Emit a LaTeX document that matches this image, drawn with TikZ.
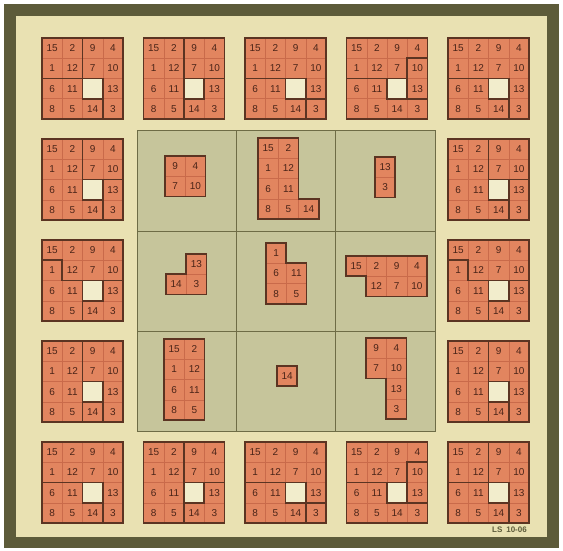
\documentclass[tikz,border=0pt]{standalone}
\usepackage{fontspec}
\setmainfont{Liberation Sans}
\definecolor{framec}{HTML}{5D5B3A}
\definecolor{bgc}{HTML}{E9E1B2}
\definecolor{panelf}{HTML}{C6C59B}
\definecolor{panell}{HTML}{6E6C46}
\definecolor{tilef}{HTML}{E2855F}
\definecolor{tgridc}{HTML}{C96A4A}
\definecolor{plinec}{HTML}{5B3422}
\definecolor{numc}{HTML}{4A2418}
\definecolor{holef}{HTML}{F2EDCC}
\tikzset{
  tilefill/.style={fill=tilef},
  tgrid/.style={draw=tgridc, line width=0.5pt},
  holefill/.style={fill=holef},
  pline/.style={draw=plinec, line width=1.8pt, line cap=rect, line join=miter},
  num/.style={font=\fontsize{10}{11}\selectfont, text=numc, inner sep=0pt},
  lab/.style={font=\fontsize{8}{9}\selectfont\bfseries, text=framec, inner sep=0pt}
}
\newcommand\bsq[3]{%
\begin{scope}[shift={(#1,#2)},x=20.25pt,y=-20.25pt]
\fill[tilefill] (0,0) rectangle (4,4);
\draw[tgrid] (1,0)--(1,4) (2,0)--(2,4) (3,0)--(3,4) (0,1)--(4,1) (0,2)--(4,2) (0,3)--(4,3);
\fill[holefill] (2,2) rectangle (3,3);
\foreach \n [count=\c] in {15,2,9,4} \node[num] at (\c-0.5,0.5) {\n};
\foreach \n [count=\c] in {1,12,7,10} \node[num] at (\c-0.5,1.5) {\n};
\foreach \n [count=\c] in {6,11} \node[num] at (\c-0.5,2.5) {\n};
\node[num] at (3.5,2.5) {13};
\foreach \n [count=\c] in {8,5,14,3} \node[num] at (\c-0.5,3.5) {\n};
\draw[pline] (0,0) rectangle (4,4) (2,2) rectangle (3,3) #3;
\end{scope}}
\newcommand\cpiece[4]{%
\begin{scope}[shift={(#1,#2)},x=20.25pt,y=-20.25pt]
\foreach \cx/\cy/\n in {#3} {
  \fill[tilefill] (\cx,\cy) rectangle ++(1,1);
  \draw[tgrid] (\cx,\cy) rectangle ++(1,1);
  \node[num] at (\cx+0.5,\cy+0.5) {\n};
}
\draw[pline] #4;
\end{scope}}
\begin{document}
\begin{tikzpicture}[x=1pt,y=-1pt]
\useasboundingbox (0,0) rectangle (563,551);
\fill[white] (0,0) rectangle (563,551);
\fill[framec] (4,4) rectangle (559,548);
\fill[bgc] (16,16) rectangle (547,537);
% central panel
\fill[panelf] (137,131) rectangle (435,431);
\draw[panell, line width=0.5pt] (236.3,131) -- (236.3,431) (335.7,131) -- (335.7,431)
  (137,231) -- (435,231) (137,331) -- (435,331);
\draw[panell, line width=1pt] (137,131) rectangle (435,431);
% border squares: top row
\bsq{42}{38}{(2,0)--(2,2) (0,2)--(2,2) (3,2)--(3,4)}
\bsq{143.5}{38}{(2,0)--(2,4) (2,2)--(4,2)}
\bsq{245}{38}{(0,2)--(2,2) (3,3)--(4,3) (3,3)--(3,4)}
\bsq{346.5}{38}{(0,2)--(2,2) (3,1)--(4,1) (3,1)--(3,3) (3,3)--(4,3)}
\bsq{448}{38}{(0,2)--(2,2) (3,2)--(3,4)}
% left column
\bsq{42}{139}{(2,0)--(2,2) (3,2)--(4,2) (3,2)--(3,4)}
\bsq{42}{240}{(0,1)--(1,1)--(1,2)--(2,2) (3,2)--(4,2) (2,3)--(2,4)}
\bsq{42}{341}{(2,0)--(2,4) (3,3)--(3,4)}
% right column
\bsq{448}{139}{(2,0)--(2,2) (3,2)--(4,2) (3,2)--(3,4)}
\bsq{448}{240}{(0,1)--(1,1)--(1,2)--(2,2) (3,2)--(4,2) (2,3)--(2,4)}
\bsq{448}{341}{(2,0)--(2,4) (3,3)--(3,4)}
% bottom row
\bsq{42}{442}{(0,2)--(2,2) (3,2)--(3,4)}
\bsq{143.5}{442}{(2,0)--(2,4) (2,2)--(4,2)}
\bsq{245}{442}{(0,2)--(2,2) (3,3)--(4,3) (3,3)--(3,4)}
\bsq{346.5}{442}{(0,2)--(2,2) (3,1)--(4,1) (3,1)--(3,3) (3,3)--(4,3)}
\bsq{448}{442}{(2,0)--(2,2) (0,2)--(2,2) (3,2)--(3,4)}
% central pieces
\cpiece{165}{156}{0/0/9,1/0/4,0/1/7,1/1/10}{(0,0) rectangle (2,2)}
\cpiece{258}{138}{0/0/15,1/0/2,0/1/1,1/1/12,0/2/6,1/2/11,0/3/8,1/3/5,2/3/14}{(0,0)--(2,0)--(2,3)--(3,3)--(3,4)--(0,4)--cycle}
\cpiece{375}{157}{0/0/13,0/1/3}{(0,0) rectangle (1,2)}
\cpiece{166}{254}{1/0/13,0/1/14,1/1/3}{(1,0)--(2,0)--(2,2)--(0,2)--(0,1)--(1,1)--cycle}
\cpiece{266}{243}{0/0/1,0/1/6,1/1/11,0/2/8,1/2/5}{(0,0)--(1,0)--(1,1)--(2,1)--(2,3)--(0,3)--cycle}
\cpiece{346}{256}{0/0/15,1/0/2,2/0/9,3/0/4,1/1/12,2/1/7,3/1/10}{(0,0)--(4,0)--(4,2)--(1,2)--(1,1)--(0,1)--cycle}
\cpiece{164}{339}{0/0/15,1/0/2,0/1/1,1/1/12,0/2/6,1/2/11,0/3/8,1/3/5}{(0,0) rectangle (2,4)}
\cpiece{277}{366}{0/0/14}{(0,0) rectangle (1,1)}
\cpiece{366}{338}{0/0/9,1/0/4,0/1/7,1/1/10,1/2/13,1/3/3}{(0,0)--(2,0)--(2,4)--(1,4)--(1,2)--(0,2)--cycle}
\node[lab, anchor=east] (ls) at (527,530) {LS\enspace 10-06};
\end{tikzpicture}
\end{document}
